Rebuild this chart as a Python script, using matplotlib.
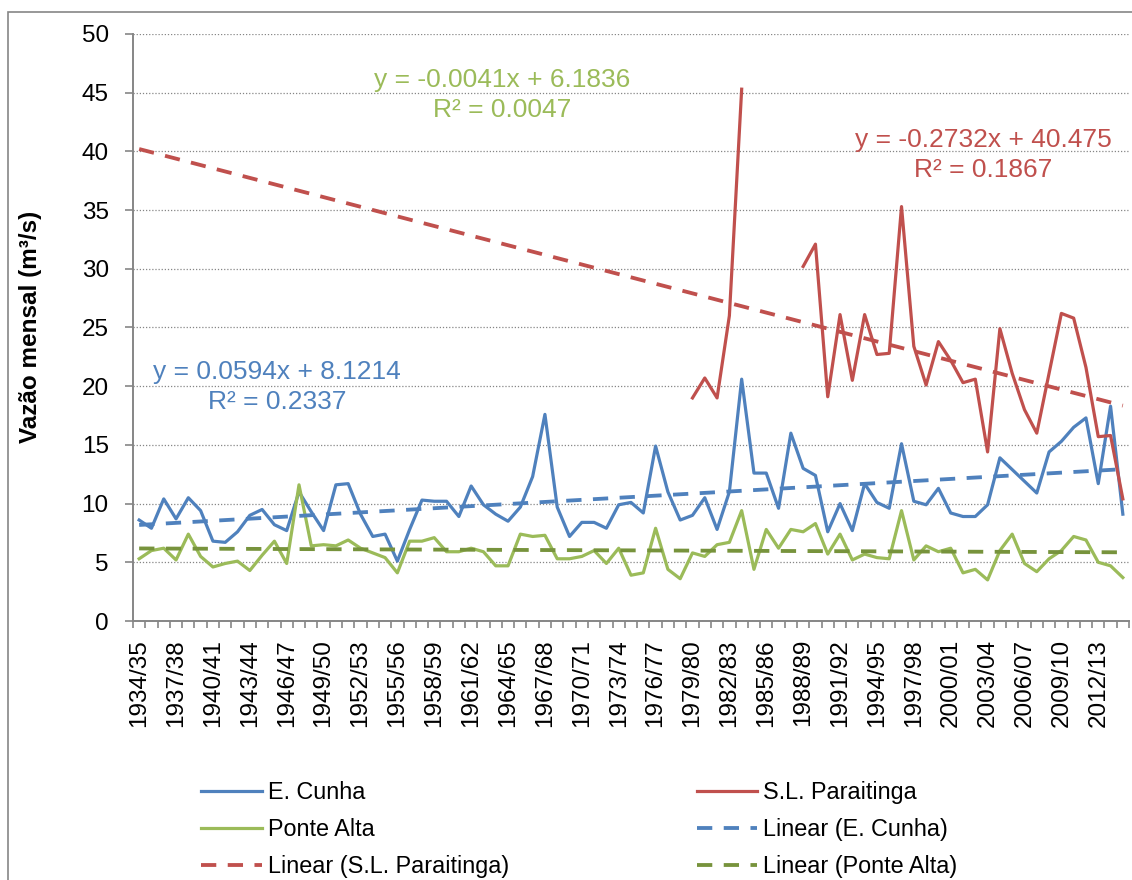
import numpy as np
import matplotlib
matplotlib.use('Agg')
import matplotlib.pyplot as plt
from matplotlib.patches import Rectangle

plt.rcParams['font.family'] = ['Liberation Sans', 'DejaVu Sans']

# ---- data ----
first_year = 1934
n_years = 81
years = ['%d/%02d' % (y, (y + 1) % 100) for y in range(first_year, first_year + n_years)]

e_cunha = [8.6, 7.9, 10.4, 8.7, 10.5, 9.4, 6.8, 6.7, 7.6, 9.0,
           9.5, 8.2, 7.7, 11.0, 9.3, 7.7, 11.6, 11.7, 9.1, 7.2,
           7.4, 5.1, 7.8, 10.3, 10.2, 10.2, 8.9, 11.5, 9.9, 9.1,
           8.5, 9.7, 12.3, 17.6, 9.7, 7.2, 8.4, 8.4, 7.9, 9.9,
           10.1, 9.2, 14.9, 11.0, 8.6, 9.0, 10.5, 7.8, 11.0, 20.6,
           12.6, 12.6, 9.6, 16.0, 13.0, 12.4, 7.6, 10.0, 7.7, 11.7,
           10.1, 9.6, 15.1, 10.2, 9.9, 11.3, 9.2, 8.9, 8.9, 9.9,
           13.9, 12.9, 11.9, 10.9, 14.4, 15.3, 16.5, 17.3, 11.7, 18.3,
           9.1]

ponte_alta = [5.3, 6.0, 6.2, 5.2, 7.4, 5.5, 4.6, 4.9, 5.1, 4.3,
              5.6, 6.8, 4.9, 11.6, 6.4, 6.5, 6.4, 6.9, 6.2, 5.8,
              5.4, 4.1, 6.8, 6.8, 7.1, 5.9, 5.9, 6.2, 5.9, 4.7,
              4.7, 7.4, 7.2, 7.3, 5.3, 5.3, 5.5, 6.0, 4.9, 6.2,
              3.9, 4.1, 7.9, 4.4, 3.6, 5.8, 5.5, 6.5, 6.7, 9.4,
              4.4, 7.8, 6.2, 7.8, 7.6, 8.3, 5.7, 7.4, 5.2, 5.7,
              5.4, 5.3, 9.4, 5.2, 6.4, 5.9, 6.2, 4.1, 4.4, 3.5,
              6.0, 7.4, 4.9, 4.2, 5.3, 6.0, 7.2, 6.9, 5.0, 4.7,
              3.7]

# S.L. Paraitinga only has records from 1979/80 on, with a gap in the 80s
slp_start = 45
slp_values = [19.0, 20.7, 19.0, 26.0, 45.3, None, None, None, None, 30.2,
              32.1, 19.1, 26.1, 20.5, 26.1, 22.7, 22.8, 35.3, 23.4, 20.1,
              23.8, 22.2, 20.3, 20.6, 14.4, 24.9, 21.1, 18.0, 16.0, 21.1,
              26.2, 25.8, 21.6, 15.7, 15.8, 10.4]

# trendline coefficients as printed on the chart (x = 1..n)
trend_ec = (0.0594, 8.1214, 0.2337)
trend_slp = (-0.2732, 40.475, 0.1867)
trend_pa = (-0.0041, 6.1836, 0.0047)

# ---- styling ----
W, H = 1132, 880
BLUE = '#4F81BD'
RED = '#C0504D'
GREEN = '#9BBB59'
DKGREEN = '#77933C'
GREY = '#868686'
FS = 17.5       # tick labels / axis title
FS_EQ = 19      # trendline equations
FS_LEG = 16.8   # legend


def fx(px):
    return px / W


def fy(py):
    return 1 - py / H


def main():
    slp = np.full(n_years, np.nan)
    for k, v in enumerate(slp_values):
        if v is not None:
            slp[slp_start + k] = v

    x = np.arange(n_years)
    xt = x + 1

    fig = plt.figure(figsize=(W / 100, H / 100), dpi=100)
    ax = fig.add_axes([fx(133), fy(621), fx(1129) - fx(133), fy(34) - fy(621)])

    lw = 2.3
    tlw = 2.75
    l_ec, = ax.plot(x, e_cunha, color=BLUE, lw=lw, label='E. Cunha')
    l_slp, = ax.plot(x, slp, color=RED, lw=lw, label='S.L. Paraitinga')
    l_pa, = ax.plot(x, ponte_alta, color=GREEN, lw=lw, label='Ponte Alta')

    t_ec, = ax.plot(x, trend_ec[0] * xt + trend_ec[1], color=BLUE, lw=tlw,
                    dashes=(4, 3), label='Linear (E. Cunha)')
    t_slp, = ax.plot(x, trend_slp[0] * xt + trend_slp[1], color=RED, lw=tlw,
                     dashes=(4, 3), label='Linear (S.L. Paraitinga)')
    t_pa, = ax.plot(x, trend_pa[0] * xt + trend_pa[1], color=DKGREEN, lw=tlw,
                    dashes=(4, 3), label='Linear (Ponte Alta)')

    ax.set_xlim(-0.5, n_years - 0.5)
    ax.set_ylim(0, 50)
    ax.set_yticks(np.arange(0, 51, 5))
    ax.tick_params(axis='y', labelsize=FS, length=5.5, width=1.2, color=GREY, pad=12)
    ax.yaxis.grid(True, color=GREY, linestyle=(0, (1, 1.5)), linewidth=0.9)
    ax.set_axisbelow(True)

    ax.set_xticks(x[::3])
    ax.set_xticklabels(years[::3], rotation=90, fontsize=FS)
    ax.set_xticks(np.arange(-0.5, n_years, 1), minor=True)
    ax.tick_params(axis='x', which='major', length=0, pad=13)
    ax.tick_params(axis='x', which='minor', length=5, width=1.2, color=GREY)

    for side in ['top', 'right']:
        ax.spines[side].set_visible(False)
    for side in ['left', 'bottom']:
        ax.spines[side].set_color(GREY)
        ax.spines[side].set_linewidth(1.4)

    fig.text(fx(31), fy(327), 'Vazão mensal (m³/s)', rotation=90, ha='center',
             va='center', fontsize=FS, fontweight='bold')

    # trendline equations
    eqs = [(trend_pa, GREEN, 502, 80, 110),
           (trend_slp, RED, 983, 140, 170),
           (trend_ec, BLUE, 277, 372, 402)]
    for (a, b, r2), col, cx, y1, y2 in eqs:
        fig.text(fx(cx), fy(y1), 'y = %sx + %s' % (('%.4f' % a), ('%g' % b)),
                 color=col, fontsize=FS_EQ, ha='center', va='center')
        fig.text(fx(cx), fy(y2), 'R² = %.4f' % r2,
                 color=col, fontsize=FS_EQ, ha='center', va='center')

    handles = [l_ec, l_pa, t_slp, l_slp, t_ec, t_pa]
    fig.legend(handles, [h.get_label() for h in handles], ncol=2,
               loc='upper left', bbox_to_anchor=(fx(201), fy(781)),
               frameon=False, fontsize=FS_LEG, handlelength=2.6, handletextpad=0.25,
               columnspacing=8.05, labelspacing=0.6, borderpad=0, borderaxespad=0)

    # outer chart-area border (partly cut off in the original)
    fig.patches.append(Rectangle((fx(8), fy(900)), fx(1200 - 8), fy(12) - fy(900),
                                 transform=fig.transFigure, fill=False,
                                 edgecolor=GREY, linewidth=1.2))

    fig.savefig('out.png', dpi=100)


if __name__ == '__main__':
    main()
